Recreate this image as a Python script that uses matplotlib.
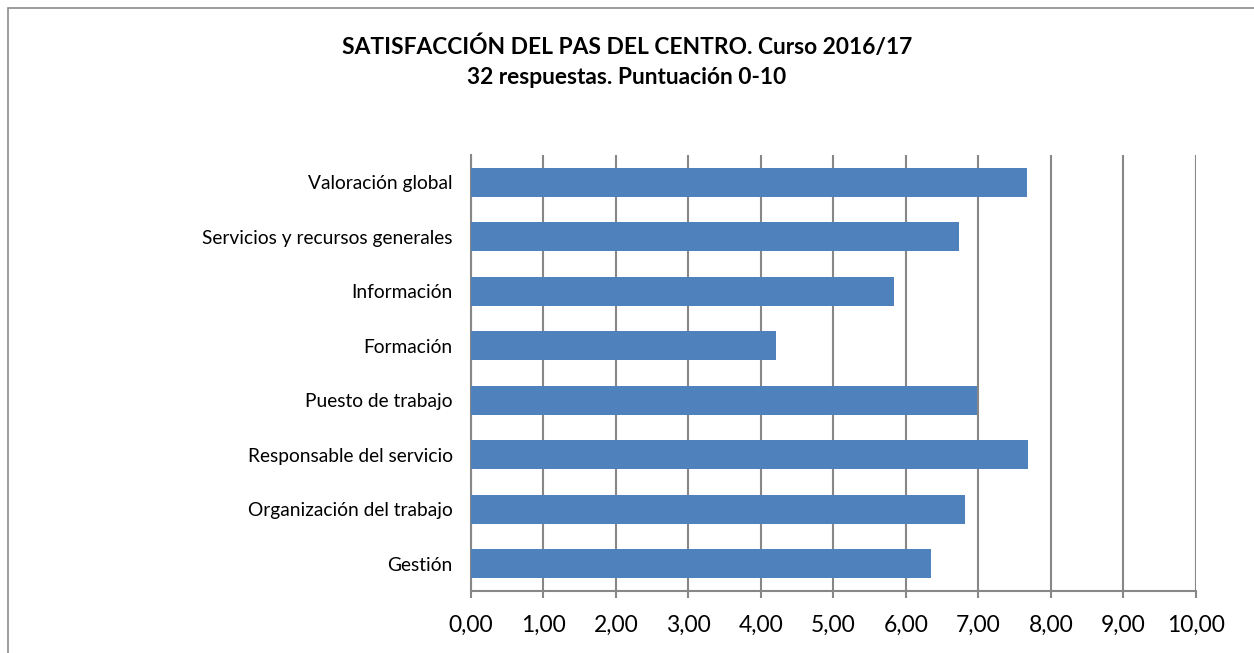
import matplotlib
matplotlib.use("Agg")
from matplotlib import pyplot as plt
from matplotlib.patches import Rectangle

categorias = ["Valoración global", "Servicios y recursos generales", "Información",
              "Formación", "Puesto de trabajo", "Responsable del servicio",
              "Organización del trabajo", "Gestión"]
puntuacion = [7.67, 6.73, 5.84, 4.21, 6.98, 7.68, 6.82, 6.34]
ticks = [0, 1, 2, 3, 4, 5, 6, 7, 8, 9, 10]
tick_labels = ["0,00", "1,00", "2,00", "3,00", "4,00", "5,00",
               "6,00", "7,00", "8,00", "9,00", "10,00"]

plt.rcParams['font.family'] = ['Lato', 'DejaVu Sans']
W, H = 1254, 653
fig = plt.figure(figsize=(W / 100, H / 100), dpi=100)

# chart border
fig.patches.append(Rectangle((8 / W, -0.1), 1.2, (H - 8) / H + 0.1, transform=fig.transFigure,
                             fill=False, edgecolor="#8c8c8c", lw=1.2))

ax = fig.add_axes([470.7 / W, 1 - 591 / H, (1196 - 470.7) / W, (591 - 155) / H])
y = list(range(len(categorias)))[::-1]
ax.barh(y, puntuacion, height=0.53, color="#4f81bd", zorder=3)

ax.set_xlim(0, 10)
ax.set_ylim(-0.5, len(categorias) - 0.5)
ax.set_xticks(ticks)
ax.set_xticklabels(tick_labels, fontsize=16.5)
ax.set_yticks(y)
ax.set_yticklabels(categorias, fontsize=13.8)
ax.grid(axis="x", color="#878787", lw=1.5, zorder=1)
ax.tick_params(axis="x", length=5, width=1.5, color="#878787", pad=12)
ax.tick_params(axis="y", length=0, pad=13)
for s in ["top", "right"]:
    ax.spines[s].set_visible(False)
for s in ["left", "bottom"]:
    ax.spines[s].set_color("#878787")
    ax.spines[s].set_linewidth(1.5)

fig.text(0.5, 1 - 47 / H, "SATISFACCIÓN DEL PAS DEL CENTRO. Curso 2016/17",
         ha="center", va="center", fontsize=16.4, fontweight="bold")
fig.text(0.5, 1 - 78 / H, "32 respuestas. Puntuación 0-10",
         ha="center", va="center", fontsize=16.4, fontweight="bold")

fig.savefig("out.png", dpi=100)
